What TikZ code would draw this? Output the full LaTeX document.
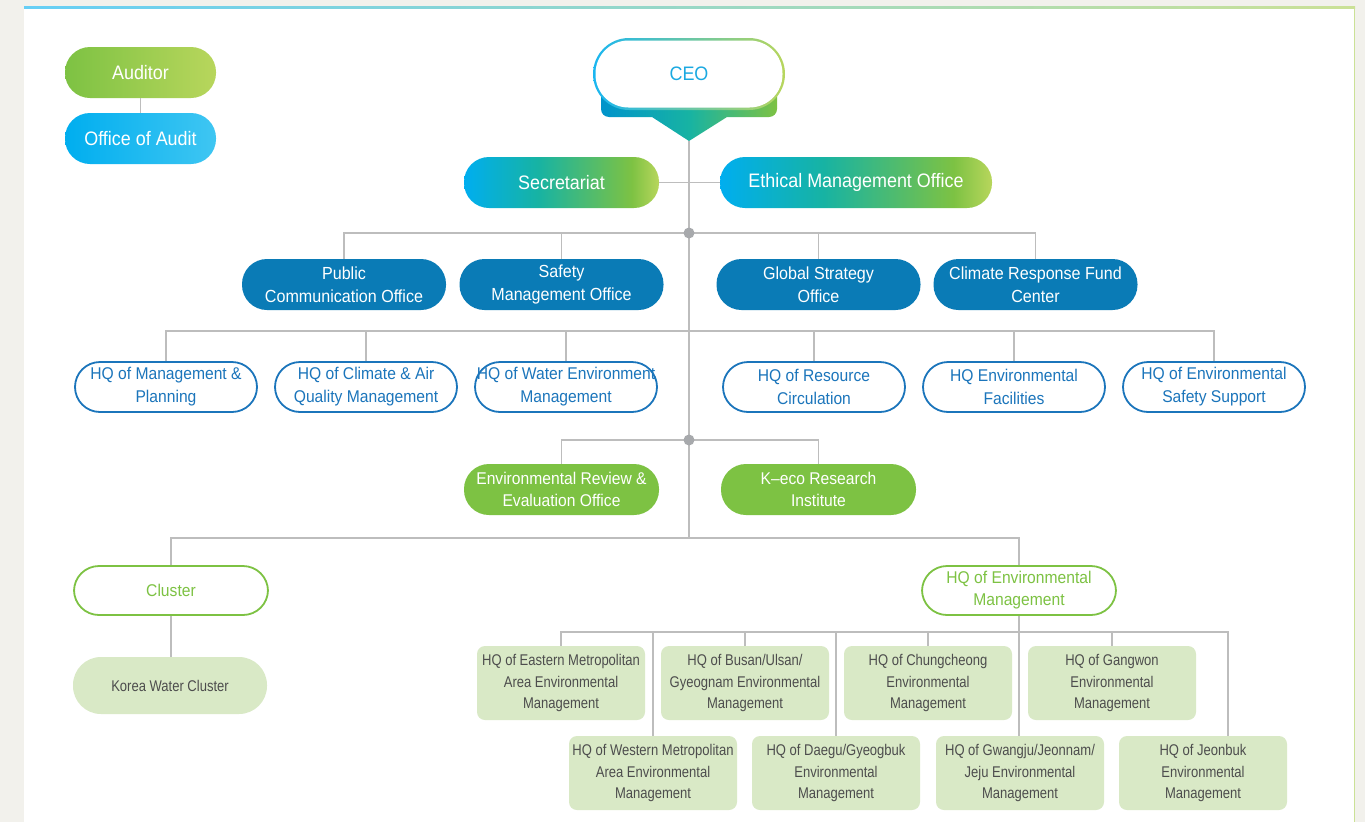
\documentclass[tikz,border=0pt]{standalone}
\usepackage{fontspec}
\setmainfont{Liberation Sans}[FakeStretch=0.92]
\newfontfamily\narrowfont{Liberation Sans}[FakeStretch=0.84]
\usepackage{xcolor}
\usetikzlibrary{shapes,positioning,calc,backgrounds}

\definecolor{kblue}{HTML}{00AEEF}
\definecolor{kteal}{HTML}{17B3A3}
\definecolor{kgreen}{HTML}{7DC243}
\definecolor{klime}{HTML}{B8D65C}
\definecolor{skyblue}{HTML}{3FC6F2}
\definecolor{deepblue}{HTML}{0A7BB6}
\definecolor{hqblue}{HTML}{1B75BB}
\definecolor{ceotext}{HTML}{1BA9E1}
\definecolor{pale}{HTML}{D9E9C6}
\definecolor{ink}{HTML}{4D4D4D}
\definecolor{linegray}{HTML}{BDBDBD}
\definecolor{dotgray}{HTML}{A7A9AC}
\definecolor{page}{HTML}{F2F1EC}
\definecolor{rimgreen}{HTML}{CBE196}

\pgfdeclarehorizontalshading{flow}{100bp}{color(0bp)=(kblue); color(25bp)=(kblue); color(44bp)=(kteal); color(68bp)=(kgreen); color(75bp)=(klime); color(100bp)=(klime)}
\pgfdeclarehorizontalshading{tabflow}{100bp}{color(0bp)=(kblue!85!black); color(25bp)=(kblue!85!black); color(50bp)=(kteal); color(75bp)=(kgreen); color(100bp)=(kgreen)}

\begin{document}
\begin{tikzpicture}[x=1pt, y=-1pt,
  link/.style={draw=linegray, line width=1.3pt},
  pill/.style={rectangle, rounded corners=25pt, minimum height=51pt, inner sep=0pt, align=center},
  flowbox/.style={pill, shading=flow, text=white, font=\fontsize{19.5}{23}\selectfont},
  office/.style={pill, fill=deepblue, text=white, minimum width=204pt, font=\fontsize{17.5}{23}\selectfont},
  hq/.style={pill, draw=hqblue, line width=1.8pt, fill=white, text=hqblue, minimum width=182pt, minimum height=50pt, font=\fontsize{17}{23}\selectfont},
  greenbox/.style={pill, fill=kgreen, text=white, minimum width=195pt, font=\fontsize{17}{22}\selectfont},
  greenline/.style={pill, draw=kgreen, line width=1.8pt, fill=white, text=kgreen, minimum width=194pt, minimum height=49pt, font=\fontsize{17}{22}\selectfont},
  regional/.style={rectangle, rounded corners=8pt, fill=pale, text=ink, minimum width=168pt, minimum height=74pt, inner sep=0pt, align=center, font=\narrowfont\fontsize{15.5}{21.5}\selectfont},
  joint/.style={circle, fill=dotgray, inner sep=0pt, minimum size=11pt}
]
  \useasboundingbox (0,0) rectangle (1365,822);

  % page and panel
  \fill[page] (0,0) rectangle (1365,822);
  \fill[white] (24,7) rectangle (1355,822);
  \draw[rimgreen, line width=1.5pt] (1354.5,7) -- (1354.5,822);
  \shade[left color=kblue!60, right color=rimgreen] (24,6) rectangle (1355,8);

  % CEO with its tab
  \shade[shading=tabflow] (689,141) -- (652,117) [rounded corners=8pt] -- (601,117) -- (601,88) -- (777,88) -- (777,117) [sharp corners] -- (727,117) -- cycle;
  \shade[left color=kblue!90, right color=klime, rounded corners=36pt] (593,38) rectangle (785,110);
  \node[pill, fill=white, rounded corners=33pt, minimum width=187pt, minimum height=67pt, text=ceotext, font=\fontsize{19.5}{23}\selectfont] (ceo) at (689,74) {CEO};
  \coordinate (ceotip) at (689,141);

  \node[pill, left color=kgreen, right color=klime, text=white, minimum width=151pt, font=\fontsize{19.5}{23}\selectfont] (aud) at (140.5,72.5) {Auditor};
  \node[pill, left color=kblue, right color=skyblue, text=white, minimum width=151pt, font=\fontsize{19.5}{23}\selectfont] (ooa) at (140.5,138.5) {Office of Audit};

  \node[flowbox, minimum width=195pt] (sec) at (561.5,182.5) {Secretariat};
  \node[flowbox, minimum width=272pt] (eth) at (856,182.5) {Ethical Management Office};

  \node[office] (pco) at (344,284.5) {Public\\Communication Office};
  \node[office] (smo) at (561.5,284.5) {Safety\\Management Office};
  \node[office] (gso) at (818.5,284.5) {Global Strategy\\Office};
  \node[office] (crf) at (1035.5,284.5) {Climate Response Fund\\Center};

  \node[hq] (hmp) at (166,387) {HQ of Management \&\\Planning};
  \node[hq] (hca) at (366,387) {HQ of Climate \& Air\\Quality Management};
  \node[hq] (hwe) at (566,387) {HQ of Water Environment\\Management};
  \node[hq] (hrc) at (814,387) {HQ of Resource\\Circulation};
  \node[hq] (hef) at (1014,387) {HQ Environmental\\Facilities};
  \node[hq] (hes) at (1214,387) {HQ of Environmental\\Safety Support};

  \node[greenbox] (ero) at (561.5,489.5) {Environmental Review \&\\Evaluation Office};
  \node[greenbox] (kri) at (818.5,489.5) {K–eco Research\\Institute};

  \node[greenline] (clu) at (171,590.5) {Cluster};
  \node[pill, fill=pale, rounded corners=28pt, minimum width=194pt, minimum height=57pt, text=ink, font=\narrowfont\fontsize{15.5}{21.5}\selectfont] (kwc) at (170,685.5) {Korea Water Cluster};
  \node[greenline] (hqe) at (1019,590.5) {HQ of Environmental\\Management};

  \node[regional] (eam) at (561,683) {HQ of Eastern Metropolitan\\Area Environmental\\Management};
  \node[regional] (bug) at (745,683) {HQ of Busan/Ulsan/\\Gyeognam Environmental\\Management};
  \node[regional] (chc) at (928,683) {HQ of Chungcheong\\Environmental\\Management};
  \node[regional] (gaw) at (1112,683) {HQ of Gangwon\\Environmental\\Management};
  \node[regional] (wam) at (653,773) {HQ of Western Metropolitan\\Area Environmental\\Management};
  \node[regional] (dag) at (836,773) {HQ of Daegu/Gyeogbuk\\Environmental\\Management};
  \node[regional] (gwj) at (1020,773) {HQ of Gwangju/Jeonnam/\\Jeju Environmental\\Management};
  \node[regional] (jbk) at (1203,773) {HQ of Jeonbuk\\Environmental\\Management};

  % connectors
  \coordinate (j1) at (689,233);
  \coordinate (j2) at (689,331);
  \coordinate (j3) at (689,440);
  \coordinate (j4) at (689,538);
  \coordinate (j5) at (1020,632);
  \coordinate (jbtop) at ([xshift=25pt]jbk.north);

  \draw[link] (aud) -- (ooa);
  \draw[link] (ceotip) -- (j4);
  \draw[link] (sec) -- (eth);
  \draw[link] (pco.north) |- (j1) -| (crf.north);
  \foreach \n in {smo,gso} \draw[link] (\n.north) -- (\n.north |- j1);
  \draw[link] (hmp.north) |- (j2) -| (hes.north);
  \foreach \n in {hca,hwe,hrc,hef} \draw[link] (\n.north) -- (\n.north |- j2);
  \draw[link] (ero.north) |- (j3) -| (kri.north);
  \draw[link] (clu.north) |- (j4) -| (hqe.north);
  \draw[link] (clu.south) -- (clu.south |- kwc.north);
  \draw[link] (hqe.south) -- (hqe.south |- gwj.north);
  \draw[link] (eam.north) |- (j5) -| (jbtop);
  \foreach \n in {wam,bug,dag,chc,gaw} \draw[link] (\n.north) -- (\n.north |- j5);

  \node[joint] (k1) at (j1) {};
  \node[joint] (k3) at (j3) {};
\end{tikzpicture}
\end{document}
